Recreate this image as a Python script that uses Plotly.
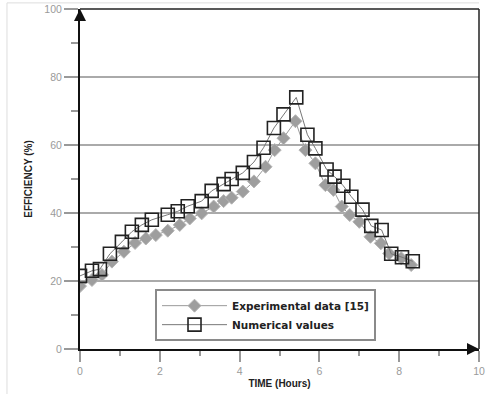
import plotly.graph_objects as go

# Data
exp_time = [0.0, 0.3, 0.55, 0.8, 1.1, 1.38, 1.65, 1.9, 2.2, 2.5, 2.75, 3.05, 3.35, 3.6, 3.8,
            4.08, 4.36, 4.65, 4.88, 5.1, 5.4, 5.65, 5.9, 6.15, 6.35, 6.56, 6.76, 7.0, 7.28,
            7.54, 7.75, 8.05, 8.3]
exp_eff = [18.5, 20.3, 21.8, 25.7, 28.6, 31.2, 32.5, 33.5, 34.8, 36.5, 38.4, 39.9, 41.9, 43.5,
           44.5, 46.3, 49.3, 53.6, 58.5, 62.0, 67.0, 58.5, 54.6, 48.2, 46.8, 41.9, 39.4, 37.4,
           33.0, 31.1, 28.1, 26.7, 24.7]

num_time = [0.0, 0.3, 0.5, 0.75, 1.05, 1.3, 1.55, 1.8, 2.2, 2.45, 2.7, 3.05, 3.3, 3.6, 3.8,
            4.08, 4.36, 4.6, 4.86, 5.1, 5.42, 5.7, 5.9, 6.18, 6.38, 6.6, 6.8, 7.08, 7.3,
            7.56, 7.8, 8.07, 8.34]
num_eff = [21.5, 23.0, 23.5, 28.0, 31.5, 34.5, 36.5, 38.0, 39.5, 40.5, 42.0, 43.5, 46.5, 48.5,
           50.0, 51.8, 55.0, 59.2, 65.0, 69.0, 74.0, 63.0, 59.0, 52.8, 50.7, 48.0, 44.8, 41.0,
           36.2, 35.0, 28.0, 27.0, 25.8]

x_ticks = [0, 2, 4, 6, 8, 10]
y_ticks = [0, 20, 40, 60, 80, 100]

fig = go.Figure()
fig.add_trace(go.Scatter(
    x=exp_time, y=exp_eff, mode="lines+markers", name="<b>Experimental data [15]</b>",
    line=dict(color="#9a9a9a", width=1),
    marker=dict(symbol="diamond", size=10, color="#9e9e9e",
                line=dict(color="#b5b5b5", width=1)),
))
fig.add_trace(go.Scatter(
    x=num_time, y=num_eff, mode="lines+markers", name="<b>Numerical values</b>",
    line=dict(color="#777777", width=1),
    marker=dict(symbol="square-open", size=13, color="#222222",
                line=dict(color="#222222", width=1.6)),
))

tickfont = dict(family="Liberation Sans, Arial, sans-serif", size=10.5, color="#9a9a9a")
titlefont = dict(family="Liberation Sans, Arial, sans-serif", size=10, color="#222222")

fig.update_layout(
    width=489, height=394,
    margin=dict(l=80, r=10, t=9, b=45, autoexpand=False),
    paper_bgcolor="white", plot_bgcolor="white",
    showlegend=True,
    legend=dict(
        x=0.188, y=0.176, xanchor="left", yanchor="top",
        bgcolor="white", bordercolor="#8a8a8a", borderwidth=2,
        font=dict(family="DejaVu Sans, sans-serif", size=10.5, color="#222222"),
        tracegroupgap=0, itemwidth=65,
    ),
    xaxis=dict(
        range=[0, 10], tickvals=x_ticks, ticktext=[str(v) for v in x_ticks],
        showgrid=False, zeroline=False, automargin=False,
        showline=True, linecolor="#111111", linewidth=2,
        ticks="outside", ticklen=11, tickcolor="#999999", tickwidth=1.5,
        minor=dict(dtick=1, ticks="outside", ticklen=5, tickcolor="#999999", tickwidth=1.5),
        tickfont=tickfont,
        title=dict(text="<b>TIME (Hours)</b>", font=titlefont, standoff=4),
    ),
    yaxis=dict(
        range=[0, 100], tickvals=y_ticks, ticktext=[str(v) for v in y_ticks],
        showgrid=True, gridcolor="#aaaaaa", gridwidth=1.5, zeroline=False, automargin=False,
        showline=True, linecolor="#111111", linewidth=2,
        ticks="outside", ticklen=14, tickcolor="#999999", tickwidth=1.5,
        minor=dict(dtick=10, ticks="outside", ticklen=7, tickcolor="#999999", tickwidth=1.5),
        tickfont=tickfont,
        title=dict(text="<b>EFFICIENCY (%)</b>", font=titlefont, standoff=10),
    ),
)

# right and top frame lines of the plot area
fig.add_shape(type="line", xref="paper", yref="paper", x0=1, x1=1, y0=0, y1=1,
              line=dict(color="#222222", width=1.5))
fig.add_shape(type="line", xref="paper", yref="paper", x0=0, x1=1, y0=1, y1=1,
              line=dict(color="#222222", width=1.5))
# faint outer frame of the image
fig.add_shape(type="line", xref="paper", yref="paper", x0=-0.183, x1=-0.183, y0=-0.14, y1=1.018,
              line=dict(color="#dddddd", width=1))
fig.add_shape(type="line", xref="paper", yref="paper", x0=-0.183, x1=1.0, y0=1.018, y1=1.018,
              line=dict(color="#dddddd", width=1))

# arrow heads on the axes
fig.add_annotation(x=0, y=100, xref="x", yref="y", ax=0, ay=12, showarrow=True,
                   arrowhead=2, arrowsize=1.2, arrowwidth=2, arrowcolor="#111111", text="")
fig.add_annotation(x=10, y=0, xref="x", yref="y", ax=-12, ay=0, showarrow=True,
                   arrowhead=2, arrowsize=1.2, arrowwidth=2, arrowcolor="#111111", text="")

fig.write_html("out.html", config={"displayModeBar": False},
               post_script="document.body.style.margin='0';document.body.style.padding='0';")
